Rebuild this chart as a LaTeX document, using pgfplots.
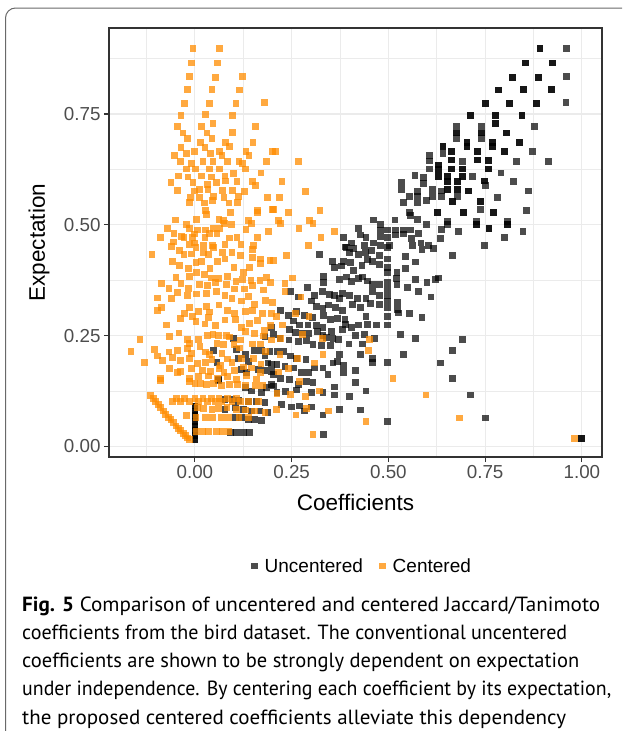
\documentclass[border=0pt]{standalone}
\usepackage{fontspec}
\setmainfont{Liberation Sans}
\newfontfamily\capfont{PT Sans}
\usepackage{graphicx}
\usepackage{pgfplots}
\usepackage{pgfplotstable}
\pgfplotsset{compat=1.18}

\definecolor{ggorange}{RGB}{255,140,0}
\definecolor{gridgray}{RGB}{235,235,235}
\definecolor{panelgray}{RGB}{51,51,51}
\definecolor{ticktext}{RGB}{77,77,77}
\definecolor{framegray}{RGB}{105,105,105}

% uncentered coefficients vs expectation (ties written twice)
\pgfplotstableread{
x y
0.892 0.897
0.892 0.897
0.961 0.897
0.855 0.865
0.855 0.865
0.925 0.865
0.925 0.865
0.820 0.833
0.820 0.833
0.888 0.833
0.888 0.833
0.961 0.835
0.784 0.804
0.784 0.804
0.850 0.806
0.850 0.806
0.921 0.806
0.921 0.806
0.750 0.774
0.750 0.774
0.813 0.774
0.813 0.774
0.883 0.774
0.883 0.774
0.959 0.776
0.713 0.747
0.713 0.747
0.777 0.747
0.777 0.747
0.845 0.746
0.845 0.746
0.677 0.722
0.740 0.722
0.777 0.728
0.777 0.728
0.878 0.722
0.677 0.707
0.677 0.707
0.740 0.707
0.740 0.707
0.806 0.707
0.806 0.707
0.677 0.695
0.740 0.695
0.641 0.676
0.641 0.676
0.703 0.686
0.703 0.686
0.768 0.686
0.768 0.686
0.839 0.686
0.839 0.686
0.641 0.661
0.664 0.665
0.664 0.665
0.703 0.676
0.703 0.676
0.768 0.676
0.768 0.676
0.730 0.665
0.730 0.665
0.799 0.665
0.799 0.665
0.873 0.665
0.664 0.646
0.664 0.646
0.692 0.643
0.730 0.646
0.730 0.646
0.759 0.645
0.759 0.645
0.832 0.643
0.913 0.643
0.630 0.635
0.630 0.635
0.630 0.625
0.630 0.625
0.664 0.626
0.664 0.626
0.692 0.626
0.692 0.626
0.759 0.626
0.759 0.626
0.791 0.617
0.630 0.609
0.630 0.609
0.653 0.609
0.653 0.609
0.692 0.609
0.692 0.609
0.718 0.609
0.749 0.599
0.749 0.599
0.824 0.598
0.653 0.598
0.653 0.598
0.679 0.598
0.679 0.598
0.679 0.580
0.679 0.580
0.707 0.576
0.707 0.576
0.638 0.576
0.653 0.579
0.653 0.579
0.750 0.588
0.862 0.576
0.638 0.564
0.679 0.564
0.665 0.552
0.665 0.552
0.782 0.562
0.694 0.528
0.694 0.528
0.738 0.552
0.738 0.552
0.738 0.534
0.771 0.527
0.771 0.527
0.856 0.532
0.626 0.527
0.626 0.527
0.652 0.508
0.727 0.508
0.808 0.508
0.652 0.500
0.727 0.500
0.727 0.500
0.808 0.500
0.808 0.500
0.637 0.490
0.681 0.485
0.760 0.491
0.760 0.491
0.848 0.485
0.635 0.469
0.799 0.471
0.749 0.454
0.606 0.656
0.606 0.644
0.606 0.626
0.569 0.611
0.590 0.607
0.590 0.594
0.534 0.596
0.534 0.579
0.576 0.575
0.613 0.579
0.614 0.564
0.554 0.563
0.575 0.563
0.576 0.549
0.598 0.554
0.538 0.550
0.555 0.527
0.558 0.521
0.576 0.512
0.598 0.501
0.461 0.511
0.517 0.511
0.480 0.500
0.422 0.491
0.480 0.488
0.497 0.488
0.519 0.488
0.540 0.488
0.558 0.488
0.519 0.477
0.538 0.479
0.578 0.480
0.383 0.471
0.428 0.477
0.442 0.471
0.479 0.474
0.498 0.471
0.405 0.459
0.438 0.454
0.461 0.459
0.480 0.454
0.502 0.454
0.560 0.469
0.563 0.454
0.584 0.459
0.604 0.454
0.388 0.450
0.321 0.433
0.391 0.449
0.399 0.438
0.410 0.446
0.423 0.433
0.440 0.438
0.457 0.442
0.478 0.431
0.498 0.449
0.498 0.423
0.544 0.429
0.570 0.416
0.587 0.444
0.617 0.446
0.355 0.417
0.361 0.404
0.379 0.407
0.384 0.417
0.403 0.414
0.410 0.397
0.432 0.408
0.446 0.422
0.459 0.417
0.478 0.410
0.498 0.404
0.498 0.393
0.522 0.393
0.520 0.378
0.544 0.402
0.570 0.377
0.600 0.369
0.621 0.377
0.333 0.383
0.333 0.369
0.374 0.377
0.392 0.382
0.404 0.372
0.423 0.378
0.433 0.382
0.446 0.373
0.459 0.366
0.478 0.365
0.498 0.371
0.498 0.356
0.522 0.365
0.549 0.358
0.577 0.349
0.610 0.337
0.247 0.349
0.291 0.358
0.310 0.340
0.329 0.349
0.348 0.343
0.361 0.341
0.374 0.334
0.382 0.345
0.399 0.341
0.421 0.334
0.442 0.334
0.459 0.349
0.478 0.341
0.498 0.341
0.498 0.328
0.524 0.324
0.524 0.309
0.554 0.299
0.587 0.291
0.267 0.337
0.301 0.328
0.314 0.315
0.331 0.311
0.346 0.319
0.363 0.313
0.381 0.307
0.408 0.320
0.427 0.313
0.453 0.322
0.478 0.321
0.498 0.313
0.527 0.301
0.497 0.293
0.222 0.307
0.241 0.296
0.263 0.304
0.284 0.296
0.304 0.290
0.332 0.296
0.351 0.287
0.369 0.289
0.388 0.287
0.389 0.275
0.404 0.268
0.422 0.274
0.442 0.293
0.445 0.275
0.469 0.274
0.498 0.274
0.532 0.253
0.570 0.243
0.254 0.283
0.271 0.274
0.292 0.274
0.314 0.272
0.331 0.268
0.352 0.260
0.382 0.263
0.416 0.250
0.438 0.253
0.465 0.243
0.244 0.263
0.259 0.257
0.278 0.256
0.295 0.255
0.317 0.260
0.331 0.250
0.341 0.245
0.357 0.244
0.372 0.242
0.398 0.231
0.433 0.231
0.459 0.199
0.498 0.189
0.538 0.207
0.203 0.253
0.220 0.244
0.243 0.240
0.267 0.237
0.288 0.238
0.305 0.229
0.327 0.227
0.350 0.228
0.374 0.207
0.357 0.188
0.384 0.183
0.384 0.167
0.415 0.171
0.427 0.207
0.459 0.190
0.212 0.214
0.229 0.214
0.246 0.204
0.263 0.199
0.287 0.196
0.310 0.177
0.331 0.177
0.344 0.162
0.369 0.192
0.212 0.184
0.233 0.181
0.256 0.177
0.276 0.166
0.293 0.166
0.305 0.145
0.361 0.134
0.361 0.116
0.399 0.113
0.415 0.145
0.442 0.125
0.203 0.162
0.222 0.154
0.244 0.151
0.267 0.140
0.288 0.146
0.263 0.127
0.235 0.123
0.212 0.121
0.203 0.136
0.301 0.121
0.331 0.121
0.224 0.095
0.250 0.089
0.271 0.091
0.301 0.089
0.284 0.080
0.331 0.071
0.374 0.084
0.427 0.082
0.498 0.056
0.333 0.027
0.666 0.431
0.630 0.380
0.691 0.242
0.665 0.217
0.634 0.188
0.665 0.153
0.713 0.116
0.750 0.064
1.000 0.017
1.000 0.017
0.000 0.091
0.000 0.091
0.000 0.080
0.000 0.080
0.000 0.069
0.000 0.069
0.000 0.057
0.000 0.057
0.000 0.046
0.000 0.046
0.000 0.035
0.000 0.035
0.000 0.024
0.000 0.024
0.000 0.015
0.000 0.015
0.091 0.031
0.108 0.031
0.125 0.031
0.142 0.031
0.104 0.066
0.121 0.066
0.138 0.061
0.155 0.061
0.172 0.059
0.078 0.106
0.096 0.106
0.113 0.104
0.138 0.102
0.160 0.102
0.181 0.099
0.049 0.216
0.057 0.190
0.061 0.151
0.108 0.218
0.113 0.199
0.100 0.243
0.130 0.207
0.138 0.192
0.155 0.216
0.172 0.216
0.181 0.204
0.189 0.188
0.198 0.184
0.194 0.214
0.181 0.248
0.198 0.268
0.121 0.173
0.134 0.166
0.164 0.173
0.181 0.171
0.198 0.169
0.130 0.132
0.147 0.125
0.172 0.121
0.185 0.132
0.198 0.140
0.104 0.087
0.125 0.084
0.147 0.080
0.168 0.080
0.189 0.076
0.078 0.084
0.061 0.149
}\uncentered

% centered coefficients vs expectation
\pgfplotstableread{
x y
-0.005 0.897
0.064 0.897
-0.009 0.865
0.059 0.865
-0.014 0.834
0.053 0.833
0.124 0.835
-0.020 0.806
0.044 0.806
0.116 0.804
-0.026 0.774
0.037 0.774
0.106 0.774
0.180 0.776
-0.036 0.747
0.027 0.748
0.097 0.746
-0.044 0.722
0.047 0.728
0.018 0.722
0.156 0.722
-0.031 0.707
0.031 0.707
0.097 0.708
-0.019 0.694
0.044 0.694
-0.036 0.675
0.014 0.686
0.026 0.675
0.080 0.686
0.090 0.676
0.150 0.686
-0.052 0.656
-0.021 0.661
-0.002 0.665
0.041 0.661
0.063 0.665
0.070 0.656
0.132 0.665
0.140 0.656
0.201 0.665
-0.038 0.643
-0.009 0.638
0.021 0.643
0.047 0.643
0.084 0.643
0.114 0.643
0.122 0.638
0.186 0.643
-0.022 0.626
0.002 0.626
0.037 0.626
0.063 0.626
0.131 0.626
-0.042 0.610
-0.018 0.608
0.016 0.610
0.043 0.608
0.078 0.610
0.100 0.616
0.148 0.598
0.171 0.617
0.156 0.588
-0.062 0.595
-0.005 0.595
0.033 0.591
0.055 0.595
0.080 0.599
0.109 0.597
-0.045 0.578
-0.001 0.576
0.012 0.580
0.034 0.579
0.072 0.578
0.098 0.578
0.129 0.575
-0.011 0.562
0.011 0.562
0.048 0.564
0.075 0.562
0.112 0.564
0.188 0.561
-0.015 0.551
0.025 0.549
0.045 0.554
0.088 0.549
0.111 0.551
0.161 0.532
0.027 0.532
0.093 0.527
0.200 0.535
0.029 0.524
0.162 0.528
-0.051 0.511
0.004 0.512
0.062 0.512
0.074 0.510
0.139 0.509
0.146 0.502
-0.022 0.501
0.077 0.502
0.095 0.501
-0.071 0.491
-0.014 0.491
0.007 0.488
0.027 0.488
0.048 0.491
0.065 0.492
0.132 0.489
0.191 0.485
-0.054 0.480
-0.002 0.479
0.038 0.480
0.057 0.480
-0.089 0.472
-0.034 0.473
-0.028 0.471
-0.006 0.471
0.026 0.471
0.089 0.470
0.109 0.471
0.162 0.471
-0.055 0.461
-0.001 0.459
-0.015 0.455
0.023 0.454
0.045 0.454
0.078 0.455
0.119 0.456
0.152 0.454
0.208 0.665
0.267 0.643
0.225 0.598
0.286 0.575
0.218 0.562
0.203 0.534
0.323 0.532
0.242 0.527
0.215 0.509
0.222 0.502
0.297 0.509
0.305 0.502
0.269 0.491
0.361 0.485
0.326 0.471
0.294 0.454
-0.111 0.433
-0.060 0.451
-0.039 0.442
-0.028 0.433
-0.009 0.434
0.003 0.448
0.023 0.437
0.049 0.449
0.035 0.433
0.072 0.438
0.096 0.438
0.118 0.430
0.148 0.444
0.148 0.427
0.194 0.420
-0.058 0.417
-0.039 0.408
-0.016 0.402
0.003 0.414
0.016 0.417
0.039 0.402
0.059 0.417
0.078 0.423
0.101 0.404
0.125 0.393
0.142 0.404
0.170 0.412
0.170 0.423
-0.049 0.381
-0.013 0.384
0.005 0.393
0.025 0.388
0.042 0.380
0.061 0.378
0.084 0.384
0.106 0.372
0.124 0.376
0.145 0.374
0.168 0.374
0.184 0.381
-0.086 0.367
-0.067 0.357
-0.036 0.367
-0.016 0.357
0.012 0.366
0.033 0.363
0.053 0.369
0.081 0.365
0.103 0.355
0.128 0.355
0.149 0.363
0.177 0.353
0.196 0.369
-0.096 0.335
-0.060 0.333
-0.044 0.347
-0.019 0.340
0.005 0.344
0.030 0.345
0.055 0.350
0.078 0.340
0.096 0.334
0.121 0.328
0.138 0.339
0.154 0.320
0.183 0.329
0.201 0.324
-0.096 0.307
-0.086 0.313
-0.038 0.288
-0.014 0.313
0.009 0.304
0.029 0.315
0.037 0.303
0.062 0.319
0.085 0.307
0.102 0.299
0.130 0.305
0.148 0.307
0.175 0.299
0.198 0.300
-0.073 0.274
-0.027 0.300
-0.007 0.293
0.003 0.281
0.026 0.276
0.036 0.290
0.053 0.272
0.078 0.285
0.105 0.287
0.120 0.268
0.142 0.277
0.161 0.284
0.180 0.262
0.196 0.273
-0.142 0.242
-0.066 0.248
-0.041 0.256
-0.019 0.242
-0.013 0.232
0.010 0.242
0.033 0.250
0.047 0.253
0.061 0.251
0.082 0.251
0.089 0.247
0.117 0.240
0.130 0.259
0.154 0.254
0.177 0.249
0.198 0.240
-0.165 0.214
-0.105 0.218
-0.067 0.213
-0.045 0.217
-0.019 0.220
-0.009 0.210
0.013 0.225
0.027 0.213
0.037 0.207
0.057 0.232
0.074 0.229
0.070 0.210
0.101 0.229
0.115 0.222
0.148 0.231
0.170 0.231
0.182 0.214
-0.130 0.189
-0.096 0.204
-0.084 0.193
-0.058 0.200
-0.038 0.193
-0.015 0.199
0.007 0.187
0.027 0.189
0.044 0.196
0.066 0.183
0.085 0.197
0.096 0.189
0.121 0.199
0.151 0.199
0.171 0.186
-0.065 0.175
-0.038 0.169
-0.009 0.175
0.019 0.172
0.040 0.169
0.062 0.175
0.075 0.167
0.102 0.172
0.125 0.179
0.147 0.177
0.170 0.166
-0.088 0.153
-0.044 0.167
-0.013 0.154
0.009 0.157
0.036 0.159
0.058 0.153
0.084 0.157
0.108 0.151
0.134 0.160
0.160 0.152
-0.089 0.149
-0.014 0.146
0.000 0.141
0.015 0.141
0.029 0.140
0.049 0.141
0.068 0.137
0.089 0.140
0.111 0.140
0.131 0.137
0.157 0.138
0.174 0.137
-0.114 0.114
-0.107 0.108
-0.101 0.102
-0.094 0.094
-0.088 0.087
-0.081 0.080
-0.075 0.072
-0.068 0.066
-0.062 0.061
-0.055 0.054
-0.049 0.046
-0.043 0.041
-0.037 0.035
-0.030 0.029
-0.024 0.024
-0.019 0.019
-0.014 0.015
-0.058 0.102
-0.037 0.102
-0.015 0.102
0.010 0.102
0.032 0.102
0.053 0.102
0.070 0.102
0.096 0.102
0.118 0.102
0.138 0.102
0.164 0.102
-0.048 0.108
-0.026 0.108
0.000 0.108
0.021 0.108
0.043 0.108
0.062 0.108
0.084 0.108
0.107 0.108
-0.022 0.069
0.006 0.087
0.023 0.086
0.044 0.084
0.061 0.086
0.083 0.087
0.108 0.084
0.130 0.082
0.155 0.080
0.181 0.076
0.003 0.066
0.027 0.066
0.046 0.066
0.068 0.066
0.087 0.066
0.114 0.066
0.138 0.066
0.003 0.034
0.019 0.034
0.036 0.034
0.055 0.034
0.070 0.034
0.087 0.034
0.237 0.431
0.203 0.419
0.233 0.367
0.253 0.380
0.233 0.349
0.274 0.337
0.259 0.300
0.295 0.293
0.227 0.274
0.210 0.293
0.278 0.253
0.222 0.244
0.329 0.243
0.451 0.242
0.449 0.217
0.331 0.207
0.310 0.188
0.265 0.198
0.220 0.207
0.241 0.175
0.217 0.168
0.270 0.147
0.321 0.125
0.212 0.119
0.246 0.117
0.286 0.113
0.288 0.085
0.346 0.080
0.261 0.071
0.210 0.084
0.442 0.056
0.512 0.153
0.597 0.116
0.305 0.027
0.683 0.064
0.981 0.017
}\centered

\newcommand\capline[3]{% y, width, text
  \node[anchor=base west, inner sep=0pt,
    font=\capfont\fontsize{20.5}{24}\selectfont] at (22pt,#1)
    {\resizebox{#2}{\height}{#3}};}

\begin{document}
\begin{tikzpicture}
\useasboundingbox (0,0) rectangle (622pt,-731pt);
% frame of the figure box
\draw[framegray, line width=1pt] (5.5pt,-731pt) -- (5.5pt,-18pt)
  arc[start angle=180, end angle=90, radius=10pt] -- (622pt,-8pt);

\begin{axis}[
  at={(109pt,-457pt)}, anchor=south west,
  scale only axis, width=493pt, height=429pt,
  xmin=-0.222, xmax=1.052, ymin=-0.024, ymax=0.944,
  xtick={0,0.25,0.5,0.75,1}, xticklabels={0.00,0.25,0.50,0.75,1.00},
  ytick={0,0.25,0.5,0.75}, yticklabels={0.00,0.25,0.50,0.75},
  minor xtick={-0.125,0.125,0.375,0.625,0.875},
  minor ytick={0.125,0.375,0.625,0.875},
  grid=both,
  major grid style={gridgray, line width=1.1pt},
  minor grid style={gridgray, line width=0.6pt},
  axis line style={panelgray, line width=1.3pt},
  xtick pos=bottom, ytick pos=left,
  tick align=outside, major tick length=5pt, minor tick length=0pt,
  tick style={panelgray, line width=1.1pt},
  ticklabel style={font=\fontsize{18.8}{21}\selectfont, text=ticktext},
  xlabel={Coefficients}, ylabel={Expectation},
  label style={font=\fontsize{22.5}{25}\selectfont},
  xlabel style={at={(axis description cs:0.5,-0.105)}, anchor=center},
  ylabel style={at={(axis description cs:-0.142,0.5)}, anchor=center},
  legend style={at={(0.513,-0.254)}, anchor=center, draw=none, fill=none,
    legend columns=2, font=\fontsize{19}{21}\selectfont,
    /tikz/every odd column/.append style={column sep=5pt},
    /tikz/every even column/.append style={column sep=14pt}},
  legend cell align=left,
]
\addplot[only marks, mark=square*, mark size=3.4pt,
  mark options={color=black, draw opacity=0, fill opacity=0.7}]
  table[x=x, y=y] {\uncentered};
\addlegendentry{Uncentered}
\addplot[only marks, mark=square*, mark size=3.4pt,
  mark options={color=ggorange, draw opacity=0, fill opacity=0.75}]
  table[x=x, y=y] {\centered};
\addlegendentry{Centered}
\end{axis}

\capline{-611pt}{578pt}{\textbf{Fig. 5} Comparison of uncentered and centered Jaccard/Tanimoto}
\capline{-639.3pt}{545pt}{coefficients from the bird dataset. The conventional uncentered}
\capline{-667.6pt}{557pt}{coefficients are shown to be strongly dependent on expectation}
\capline{-695.9pt}{589pt}{under independence. By centering each coefficient by its expectation,}
\capline{-724.2pt}{544pt}{the proposed centered coefficients alleviate this dependency}
\end{tikzpicture}
\end{document}
